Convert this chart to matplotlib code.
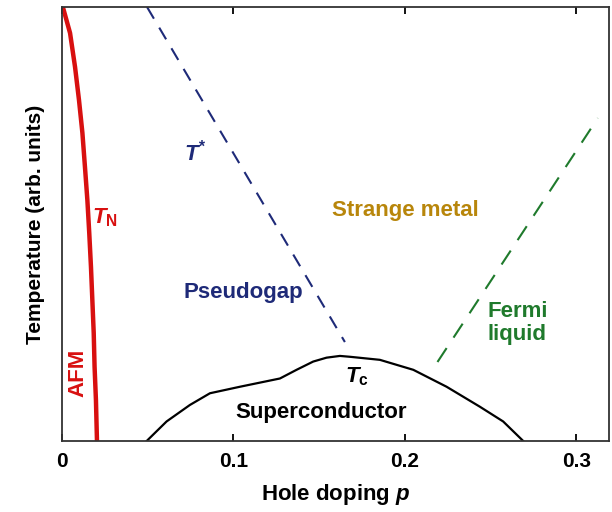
import matplotlib
matplotlib.use('Agg')
import matplotlib.pyplot as plt

plt.rcParams['font.family'] = ['Liberation Sans', 'DejaVu Sans']
plt.rcParams['mathtext.fontset'] = 'custom'
plt.rcParams['mathtext.it'] = 'Liberation Sans:bold:italic'
plt.rcParams['mathtext.rm'] = 'Liberation Sans:bold'
plt.rcParams['mathtext.bf'] = 'Liberation Sans:bold'

# Neel temperature (AFM boundary)
tn_p = [0.0005, 0.0047, 0.0076, 0.0099, 0.0119, 0.0134, 0.0148, 0.0159,
        0.0169, 0.0177, 0.0185, 0.0190, 0.0198, 0.0204]
tn_t = [1.0, 0.940, 0.862, 0.786, 0.710, 0.631, 0.555, 0.479,
        0.401, 0.325, 0.249, 0.171, 0.094, 0.0]

# pseudogap temperature T*
tstar_p = [0.0496, 0.165]
tstar_t = [1.0, 0.228]

# Fermi liquid crossover
fl_p = [0.219, 0.3125]
fl_t = [0.182, 0.744]

# superconducting dome Tc
tc_p = [0.0494, 0.0610, 0.0746, 0.0863, 0.1038, 0.1271, 0.1368, 0.1465,
        0.1543, 0.1621, 0.168, 0.1854, 0.2049, 0.2243, 0.2437, 0.2573, 0.269]
tc_t = [0.0, 0.045, 0.083, 0.110, 0.125, 0.144, 0.164, 0.183,
        0.192, 0.196, 0.194, 0.187, 0.164, 0.125, 0.079, 0.045, 0.0]

xticks = [0, 0.1, 0.2, 0.3]
xticklabels = ['0', '0.1', '0.2', '0.3']

red = '#d81010'
navy = '#1e2a78'
green = '#1f7a2c'
gold = '#b8860b'

fig = plt.figure(figsize=(6.12, 5.12), dpi=100)
ax = fig.add_axes([0.1013, 0.1387, 0.8937, 0.8476])

ax.plot(tn_p, tn_t, color=red, lw=3.2, solid_capstyle='butt', solid_joinstyle='round')
ax.plot(tstar_p, tstar_t, color=navy, lw=1.5, dashes=[6.5, 5])
ax.plot(fl_p, fl_t, color=green, lw=1.5, dashes=[8, 6])
ax.plot(tc_p, tc_t, color='black', lw=1.6, solid_joinstyle='round')

ax.set_xlim(0, 0.319)
ax.set_ylim(0, 1)
ax.set_xticks(xticks)
ax.set_xticklabels(xticklabels, fontsize=15, fontweight='bold')
ax.set_yticks([])
ax.tick_params(axis='x', direction='in', top=True, length=5, width=1.3, pad=8)
for s in ax.spines.values():
    s.set_color('#333333')
    s.set_linewidth(1.3)

ax.set_xlabel('Hole doping $p$', fontsize=16, fontweight='bold', labelpad=8)
ax.set_ylabel('Temperature (arb. units)', fontsize=15, fontweight='bold', labelpad=12)

fs = 16
ax.text(0.0776, 0.664, r'$T^{*}$', color=navy, fontsize=fs, ha='center', va='center')
ax.text(0.025, 0.514, r'$T_{\rm N}$', color=red, fontsize=fs, ha='center', va='center')
ax.text(0.0093, 0.157, 'AFM', color=red, fontsize=fs, fontweight='bold',
        rotation=90, ha='center', va='center')
ax.text(0.1055, 0.343, 'Pseudogap', color=navy, fontsize=fs, fontweight='bold',
        ha='center', va='center')
ax.text(0.200, 0.532, 'Strange metal', color=gold, fontsize=fs, fontweight='bold',
        ha='center', va='center')
ax.text(0.248, 0.272, 'Fermi\nliquid', color=green, fontsize=fs, fontweight='bold',
        ha='left', va='center', linespacing=1.1)
ax.text(0.172, 0.147, r'$T_{\rm c}$', color='black', fontsize=fs, ha='center', va='center')
ax.text(0.151, 0.065, 'Superconductor', color='black', fontsize=fs, fontweight='bold',
        ha='center', va='center')

fig.savefig('out.png', dpi=100)
